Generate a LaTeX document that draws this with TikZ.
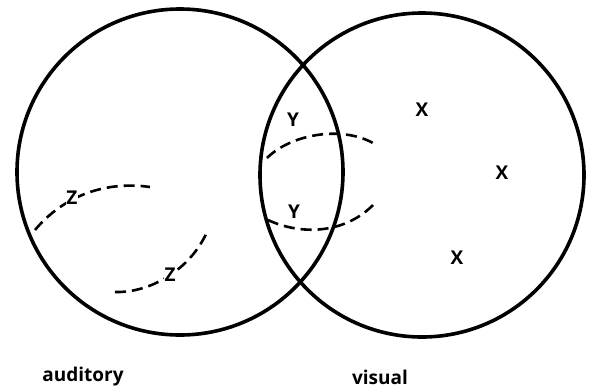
\documentclass[tikz,border=0pt]{standalone}
\usepackage{fontspec}
\setmainfont{Open Sans}
\begin{document}
\begin{tikzpicture}[x=1pt,y=-1pt,
  ring/.style={draw=black,line width=3.6pt},
  dashcurve/.style={draw=black,line width=2.6pt,dash pattern=on 11pt off 6pt},
  letter/.style={font=\fontsize{19}{22}\selectfont\bfseries,text=black,inner sep=0.5pt},
  caption/.style={font=\fontsize{19}{22}\selectfont\bfseries,text=black,inner sep=0pt}]
\useasboundingbox (0,0) rectangle (592,389);
\fill[white] (0,0) rectangle (592,389);
% circles
\draw[ring] (180,172) circle[radius=163pt];
\draw[ring] (422,175) circle[radius=162pt];
% dashed curves
\draw[dashcurve] (35,230) .. controls (60,200) and (100,180) .. (150,187);
\draw[dashcurve] (115,292) .. controls (150,293) and (190,270) .. (207,232);
\draw[dashcurve] (267,158) .. controls (290,135) and (340,125) .. (373,143);
\draw[dashcurve] (268,220) .. controls (300,235) and (345,235) .. (375,203);
% labels
\node[letter,fill=white] (z1) at (72,198) {Z};
\node[letter,fill=white] (z2) at (170,275) {Z};
\node[letter] (y1) at (293,120) {Y};
\node[letter] (y2) at (294,212) {Y};
\node[letter] (x1) at (422,110) {X};
\node[letter] (x2) at (502,173) {X};
\node[letter] (x3) at (457,258) {X};
\node[caption] (aud) at (83,377) {auditory};
\node[caption] (vis) at (380,377) {visual};
\end{tikzpicture}
\end{document}
